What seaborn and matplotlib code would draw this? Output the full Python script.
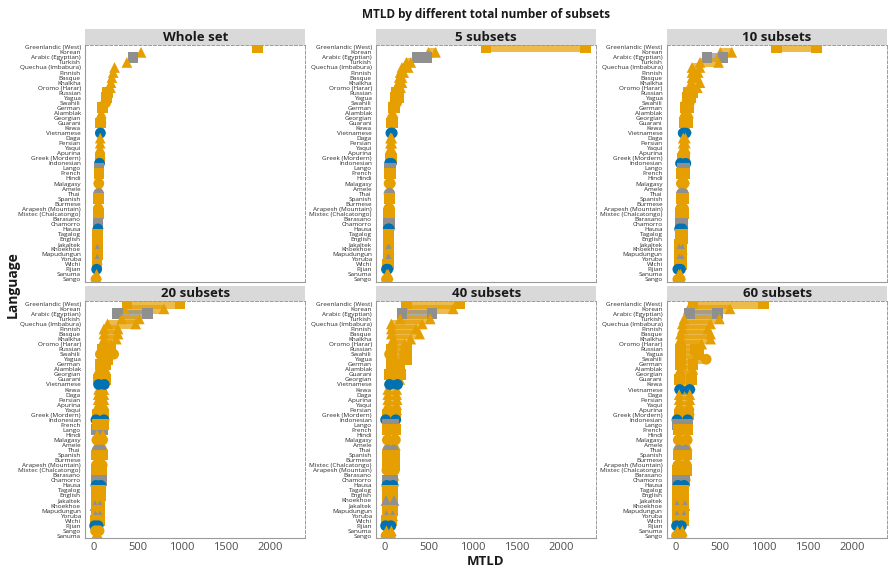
import numpy as np
import pandas as pd
import matplotlib
matplotlib.use("Agg")
import matplotlib.pyplot as plt
from matplotlib.patches import Rectangle
import seaborn as sns

sns.set_style("white")
plt.rcParams['font.family'] = ['Open Sans', 'DejaVu Sans']

# languages in the whole-set order (top to bottom)
languages = ["Greenlandic (West)", "Korean", "Arabic (Egyptian)", "Turkish", "Quechua (Imbabura)",
             "Finnish", "Basque", "Khalkha", "Oromo (Harar)", "Russian", "Yagua", "Swahili",
             "German", "Alamblak", "Georgian", "Guarani", "Kewa", "Vietnamese", "Daga", "Persian",
             "Yaqui", "Apurina", "Greek (Mordern)", "Indonesian", "Lango", "French", "Hindi",
             "Malagasy", "Amele", "Thai", "Spanish", "Burmese", "Arapesh (Mountain)",
             "Mixtec (Chalcatongo)", "Barasano", "Chamorro", "Hausa", "Tagalog", "English",
             "Jakaltek", "Khoekhoe", "Mapudungun", "Yoruba", "Wichi", "Fijian", "Sanuma", "Sango"]

# colour class and marker class per language
colour_class = ["o", "o", "g", "o", "o", "o", "o", "o", "o", "o", "o", "o",
                "o", "o", "o", "o", "o", "b", "o", "o", "o", "o", "o", "b", "g", "o", "o",
                "o", "o", "g", "o", "o", "o", "o", "o", "g", "b", "o", "o",
                "o", "g", "o", "g", "o", "b", "o", "o"]
shape_class = ["sq", "tri", "sq", "tri", "tri", "tri", "tri", "tri", "tri", "sq", "sq", "circ",
               "sq", "tri", "tri", "sq", "tri", "circ", "tri", "tri", "tri", "tri", "sq", "circ", "sq", "sq", "tri",
               "circ", "tri", "circ", "sq", "tri", "circ", "sq", "tri", "sq", "circ", "sq", "sq",
               "sq", "tri", "sq", "tri", "sq", "circ", "tri", "circ"]

whole_set = [1860, 540, 450, 380, 240, 225, 210, 200, 195, 160, 150, 140,
             100, 90, 90, 85, 85, 80, 78, 78, 76, 76, 75, 70, 65, 65, 62,
             62, 62, 60, 60, 57, 56, 56, 54, 53, 52, 50, 50,
             49, 46, 46, 45, 42, 38, 37, 30]

lo_5 = [1150, 500, 370, 250, 200, 180, 170, 160, 165, 140, 130, 120,
        100, 85, 85, 85, 80, 75, 70, 70, 70, 70, 68, 60, 62, 62, 60,
        55, 55, 55, 55, 50, 50, 50, 48, 48, 45, 45, 45, 45, 42, 42, 42, 38, 25, 30, 25]
hi_5 = [2280, 580, 480, 300, 270, 220, 200, 200, 185, 165, 160, 140,
        120, 100, 100, 95, 90, 90, 85, 85, 80, 80, 78, 80, 75, 72, 70,
        68, 65, 62, 62, 60, 60, 60, 58, 58, 55, 55, 55, 52, 55, 52, 52, 50, 40, 45, 38]

lo_10 = [1150, 510, 360, 280, 190, 190, 190, 180, 170, 150, 140, 130,
         120, 100, 100, 100, 95, 90, 90, 90, 85, 85, 80, 60, 80, 75, 75,
         70, 70, 70, 65, 60, 60, 60, 55, 55, 50, 55, 55, 50, 45, 50, 45, 45, 30, 40, 30]
hi_10 = [1600, 640, 540, 490, 280, 260, 250, 280, 250, 200, 170, 160,
         150, 150, 145, 140, 130, 120, 115, 115, 115, 110, 110, 120, 110, 110, 105,
         100, 100, 90, 100, 95, 95, 95, 90, 85, 80, 80, 80, 75, 80, 75, 75, 70, 60, 60, 55]

lo_20 = [380, 350, 270, 320, 160, 120, 120, 120, 120, 100, 100, 80,
         80, 60, 60, 60, 60, 60, 55, 55, 50, 55, 50, 30, 35, 45, 45,
         40, 40, 45, 40, 35, 35, 35, 30, 35, 30, 30, 30, 30, 20, 30, 25, 25, 15, 25, 25]
hi_20 = [980, 800, 610, 520, 480, 280, 280, 260, 200, 200, 160, 230,
         140, 140, 140, 135, 120, 125, 120, 120, 115, 120, 115, 120, 110, 115, 110,
         105, 105, 90, 100, 100, 100, 95, 95, 90, 85, 80, 80, 75, 75, 75, 75, 70, 55, 60, 65]

lo_40 = [250, 230, 200, 180, 80, 80, 80, 100, 100, 80, 80, 60,
         80, 70, 60, 60, 40, 60, 40, 40, 40, 40, 40, 15, 30, 40, 40,
         35, 35, 40, 35, 35, 30, 30, 30, 30, 30, 30, 30, 30, 20, 30, 25, 25, 15, 25, 20]
hi_40 = [850, 780, 540, 520, 430, 360, 400, 300, 230, 250, 250, 230,
         170, 190, 175, 180, 140, 150, 140, 140, 140, 145, 130, 130, 110, 130, 125,
         125, 125, 100, 120, 120, 115, 120, 110, 100, 100, 100, 95, 95, 110, 95, 95, 85, 75, 80, 70]

lo_60 = [200, 150, 160, 100, 80, 80, 60, 60, 60, 60, 60, 60,
         60, 55, 50, 50, 50, 50, 45, 45, 45, 45, 45, 20, 30, 40, 40,
         35, 35, 40, 35, 35, 30, 30, 30, 30, 30, 30, 35, 30, 20, 30, 20, 25, 15, 25, 15]
hi_60 = [1000, 620, 480, 500, 400, 370, 400, 400, 300, 230, 260, 350,
         200, 200, 190, 180, 170, 165, 165, 165, 160, 160, 155, 140, 140, 140, 135,
         135, 135, 110, 130, 130, 125, 130, 120, 110, 100, 100, 100, 95, 110, 100, 100, 90, 70, 80, 70]

order_20 = ["Greenlandic (West)", "Korean", "Arabic (Egyptian)", "Turkish", "Quechua (Imbabura)",
            "Finnish", "Basque", "Khalkha", "Oromo (Harar)", "Russian", "Swahili", "Yagua",
            "German", "Alamblak", "Georgian", "Guarani", "Vietnamese", "Kewa", "Daga", "Persian",
            "Apurina", "Yaqui", "Greek (Mordern)", "Indonesian", "French", "Lango", "Hindi",
            "Malagasy", "Amele", "Thai", "Spanish", "Burmese", "Arapesh (Mountain)",
            "Mixtec (Chalcatongo)", "Barasano", "Chamorro", "Hausa", "Tagalog", "English",
            "Jakaltek", "Khoekhoe", "Mapudungun", "Yoruba", "Wichi", "Fijian", "Sango", "Sanuma"]
order_40 = ["Greenlandic (West)", "Korean", "Arabic (Egyptian)", "Turkish", "Quechua (Imbabura)",
            "Finnish", "Basque", "Khalkha", "Oromo (Harar)", "Russian", "Swahili", "Yagua",
            "German", "Alamblak", "Guarani", "Georgian", "Vietnamese", "Kewa", "Daga", "Apurina",
            "Yaqui", "Persian", "Greek (Mordern)", "Indonesian", "Lango", "French", "Hindi",
            "Malagasy", "Amele", "Thai", "Spanish", "Burmese", "Mixtec (Chalcatongo)",
            "Arapesh (Mountain)", "Barasano", "Chamorro", "Hausa", "Tagalog", "English",
            "Khoekhoe", "Jakaltek", "Mapudungun", "Yoruba", "Wichi", "Fijian", "Sanuma", "Sango"]

panels = ["Whole set", "5 subsets", "10 subsets", "20 subsets", "40 subsets", "60 subsets"]
ranges = {"5 subsets": (lo_5, hi_5), "10 subsets": (lo_10, hi_10), "20 subsets": (lo_20, hi_20),
          "40 subsets": (lo_40, hi_40), "60 subsets": (lo_60, hi_60)}
orders = {"20 subsets": order_20, "40 subsets": order_40}

palette = {"o": "#E69F00", "g": "#8F8F8F", "b": "#0072B2"}
markers = {"tri": "^", "sq": "s", "circ": "o"}

fig, axes = plt.subplots(2, 3, figsize=(8.9, 5.7), dpi=100)
fig.subplots_adjust(left=0.0955, right=0.997, bottom=0.056, top=0.921, wspace=0.32, hspace=0.084)

for ax, panel in zip(axes.flat, panels):
    order = orders.get(panel, languages)
    ypos = {lang: i for i, lang in enumerate(order)}
    rows = []
    for i, lang in enumerate(languages):
        if panel == "Whole set":
            vals = [whole_set[i]]
        else:
            lo, hi = ranges[panel]
            vals = [lo[i], hi[i]]
            ax.hlines(ypos[lang], lo[i], hi[i], colors=palette[colour_class[i]],
                      lw=6.5, alpha=0.7, zorder=1)
        for v in vals:
            rows.append({"language": lang, "mtld": v, "y": ypos[lang],
                         "colour": colour_class[i], "shape": shape_class[i]})
    df = pd.DataFrame(rows)
    sns.scatterplot(data=df, x="mtld", y="y", hue="colour", style="shape",
                    palette=palette, markers=markers, s=60, linewidth=0,
                    legend=False, ax=ax, zorder=3)

    ax.set_xlim(-94, 2400)
    ax.set_ylim(len(order) - 0.55, -0.45)
    ax.set_yticks(range(len(order)))
    ax.set_yticklabels(order, fontsize=4.6, color="#2b2b2b")
    ax.set_xticks([0, 500, 1000, 1500, 2000])
    ax.set_xlabel("")
    ax.set_ylabel("")
    if panel in ("Whole set", "5 subsets", "10 subsets"):
        ax.set_xticklabels([])
    else:
        ax.tick_params(axis="x", labelsize=8, labelcolor="#4d4d4d")
    ax.tick_params(axis="both", length=2, width=0.6, color="#999999", pad=1)
    for side in ("left", "bottom"):
        ax.spines[side].set_color("#9a9a9a")
        ax.spines[side].set_linewidth(0.8)
    for side in ("top", "right"):
        ax.spines[side].set_color("#9a9a9a")
        ax.spines[side].set_linewidth(0.7)
        ax.spines[side].set_linestyle((0, (3, 2)))

    ax.add_patch(Rectangle((0, 1.0), 1, 0.066, transform=ax.transAxes,
                           facecolor="#D9D9D9", edgecolor="none", clip_on=False))
    ax.text(0.5, 1.033, panel, transform=ax.transAxes, ha="center", va="center",
            fontsize=9.5, fontweight="bold", color="#1a1a1a")

fig.text(0.546, 0.975, "MTLD by different total number of subsets", ha="center", va="center",
         fontsize=8.5, fontweight="bold", color="#1a1a1a")
fig.text(0.546, 0.003, "MTLD", ha="center", va="bottom", fontsize=9.5, fontweight="bold", color="#1a1a1a")
fig.text(0.014, 0.5, "Language", ha="center", va="center", rotation=90,
         fontsize=10, fontweight="bold", color="#1a1a1a")

fig.savefig("out.png", dpi=100)
